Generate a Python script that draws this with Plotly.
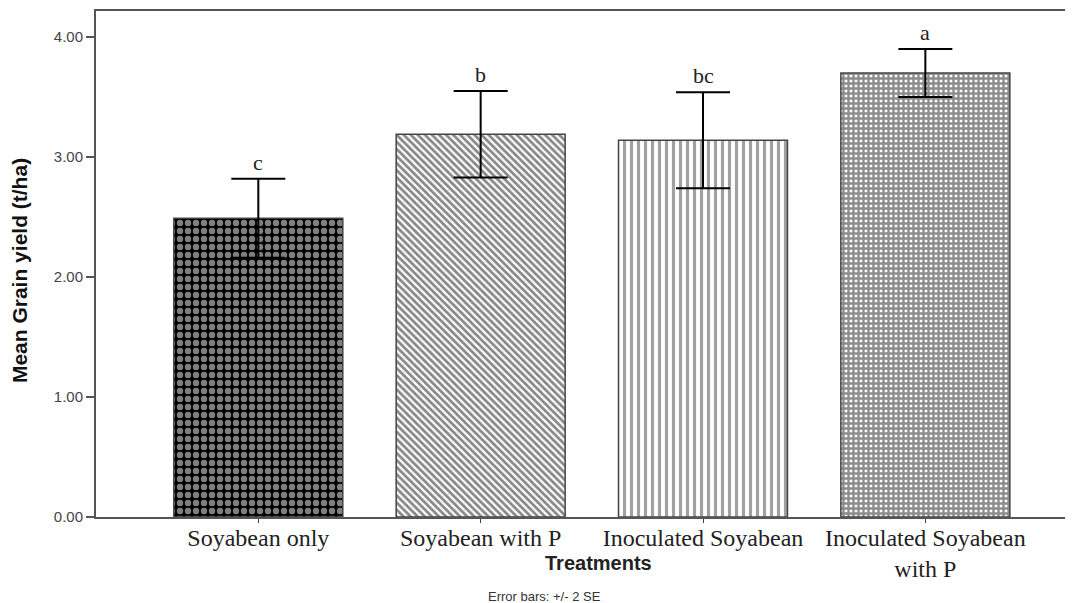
import plotly.graph_objects as go

treatments = ["Soyabean only", "Soyabean with P", "Inoculated Soyabean", "Inoculated Soyabean<br>with P"]
mean_yield = [2.49, 3.19, 3.14, 3.70]
err_2se = [0.33, 0.36, 0.40, 0.20]
letters = ["c", "b", "bc", "a"]

patterns = [
    dict(shape=".", size=8, solidity=0.5, fgcolor="white", bgcolor="#000000"),
    dict(shape="\\", size=5, solidity=0.55, fgcolor="#111111", bgcolor="white"),
    dict(shape="|", size=7, solidity=0.45, fgcolor="#444444", bgcolor="white"),
    dict(shape="+", size=5, solidity=0.72, fgcolor="#1a1a1a", bgcolor="white"),
]

fig = go.Figure()

for i, name in enumerate(treatments):
    fig.add_trace(
        go.Bar(
            x=[i],
            y=[mean_yield[i]],
            width=0.76,
            marker=dict(color="white", pattern=patterns[i], line=dict(color="#444444", width=1.5)),
            error_y=dict(type="data", array=[err_2se[i]], color="black", thickness=2, width=27),
            showlegend=False,
        )
    )
    fig.add_annotation(
        x=i,
        y=mean_yield[i] + err_2se[i],
        text=letters[i],
        showarrow=False,
        yanchor="bottom",
        yshift=2,
        font=dict(family="Liberation Serif", size=22, color="#222222"),
    )

# axis titles and footnote as annotations
fig.add_annotation(
    x=0.51, y=-0.091, xref="paper", yref="paper", xanchor="center", yanchor="middle",
    text="<b>Treatments</b>", showarrow=False,
    font=dict(family="Liberation Sans", size=20, color="#222222"),
)
fig.add_annotation(
    x=0.455, y=-0.158, xref="paper", yref="paper", xanchor="center", yanchor="middle",
    text="Error bars: +/- 2 SE", showarrow=False,
    font=dict(family="Liberation Sans", size=13, color="#333333"),
)
fig.add_annotation(
    x=0, y=0.486, xref="paper", yref="paper", xshift=-77, xanchor="center", yanchor="middle",
    text="<b>Mean Grain yield (t/ha)</b>", showarrow=False, textangle=-90,
    font=dict(family="Liberation Sans Narrow, Liberation Sans", size=21, color="#111111"),
)

fig.update_xaxes(
    range=[-0.73, 3.70],
    tickvals=list(range(len(treatments))),
    ticktext=treatments,
    tickfont=dict(family="Liberation Serif", size=24, color="#222222"),
    ticks="outside", ticklen=4, tickcolor="#444444",
    ticklabelstandoff=-6,
    showline=True, linecolor="#555555", linewidth=2, mirror=True,
    showgrid=False, zeroline=False, automargin=False,
)

fig.update_yaxes(
    range=[0, 4.217],
    tickvals=[0, 1, 2, 3, 4],
    ticktext=["0.00", "1.00", "2.00", "3.00", "4.00"],
    tickfont=dict(family="Liberation Sans", size=15, color="#444444"),
    ticks="outside", ticklen=8, tickcolor="#555555", tickwidth=1.5,
    showline=True, linecolor="#555555", linewidth=2,
    showgrid=False, zeroline=False, automargin=False,
)

fig.update_layout(
    width=1073,
    height=603,
    margin=dict(l=88, r=0, t=3, b=94),
    plot_bgcolor="white",
    paper_bgcolor="white",
    bargap=0.2,
)

fig.write_html("out.html")
